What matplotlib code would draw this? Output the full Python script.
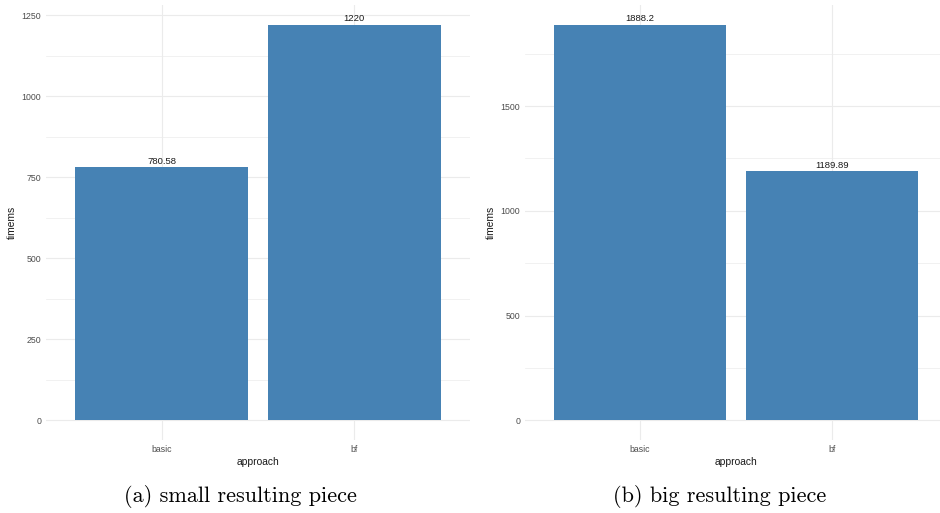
import matplotlib.pyplot as plt
from matplotlib.ticker import MultipleLocator

# data
approach = ['basic', 'bf']
small_time = [780.58, 1220]
big_time = [1888.2, 1189.89]
captions = ['(a) small resulting piece', '(b) big resulting piece']

bar_color = '#4682B4'
grid_color = '#EBEBEB'
tick_color = '#4D4D4D'

plt.rcParams['font.family'] = ['Liberation Sans', 'DejaVu Sans']

fig = plt.figure(figsize=(9.4, 5.13), dpi=100)

def panel(rect, values, major, minor):
    ax = fig.add_axes(rect)
    x = range(len(approach))
    bars = ax.bar(x, values, width=0.9, color=bar_color, zorder=2)
    ax.bar_label(bars, labels=['%g' % v for v in values], padding=1,
                 fontsize=6.8, color='#1A1A1A')
    ax.set_xticks(list(x))
    ax.set_xticklabels(approach)
    ax.set_xlim(-0.6, len(approach) - 0.4)
    top = max(values)
    ax.set_ylim(-0.05 * top, 1.05 * top)
    ax.yaxis.set_major_locator(MultipleLocator(major))
    ax.yaxis.set_minor_locator(MultipleLocator(minor))
    ax.grid(which='major', color=grid_color, lw=0.8, zorder=0)
    ax.grid(which='minor', axis='y', color=grid_color, lw=0.5, zorder=0)
    ax.tick_params(which='both', length=0, labelsize=6.3, labelcolor=tick_color, pad=3.5)
    for s in ax.spines.values():
        s.set_visible(False)
    ax.set_xlabel('approach', fontsize=7.4, color='#1A1A1A', labelpad=2)
    ax.set_ylabel('timems', fontsize=7.4, color='#1A1A1A', labelpad=3)
    return ax

panel([46 / 940, 1 - 440 / 513, 424 / 940, 435 / 513], small_time, 250, 125)
# right panel runs a little past the picture's edge, as in the reference
panel([525 / 940, 1 - 440 / 513, 422 / 940, 435 / 513], big_time, 500, 250)

fig.text(240 / 940, 1 - 497 / 513, captions[0], family='cmr10', fontsize=16,
         ha='center', va='center')
fig.text(720 / 940, 1 - 497 / 513, captions[1], family='cmr10', fontsize=16,
         ha='center', va='center')

fig.savefig('out.png', dpi=100)
